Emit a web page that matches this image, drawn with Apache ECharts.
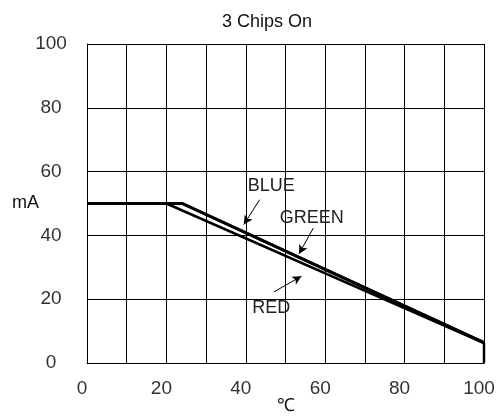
<!DOCTYPE html>
<html>
<head>
<meta charset="utf-8">
<script src="https://cdn.jsdelivr.net/npm/echarts@6/dist/echarts.min.js"></script>
<style>html,body{margin:0;padding:0;background:#fff;}#c{width:503px;height:416px;}</style>
</head>
<body>
<div id="c"></div>
<script>
// Data (temperature °C, current mA)
const blueCurrent  = [[0, 50], [24, 50], [100, 6.4]];
const greenCurrent = [[0, 50], [24, 50], [100, 6.4]];
const redCurrent   = [[0, 50], [20, 50], [100, 6.2], [100, 0]];
const xTickLabels = [0, 20, 40, 60, 80, 100];
const yTickLabels = [0, 20, 40, 60, 80, 100];
// annotation labels and arrows (data coordinates)
const seriesLabels = [
  { name: 'BLUE',  at: [46.4, 55.4], arrowFrom: [43.5, 51.2], arrowTo: [39.5, 43.4] },
  { name: 'GREEN', at: [56.6, 45.6], arrowFrom: [57.0, 42.3], arrowTo: [53.4, 34.2] },
  { name: 'RED',   at: [46.4, 17.1], arrowFrom: [47.1, 22.3], arrowTo: [54.0, 27.2] }
];

const FONT = 'Liberation Sans, Arial, sans-serif';
const chart = echarts.init(document.getElementById('c'), null, { renderer: 'canvas' });

const lineStyleBlack = { color: '#000', width: 1 };

function makeSeries(name, data, width) {
  const lab = seriesLabels.find(s => s.name === name);
  return {
    name: name,
    type: 'line',
    data: data,
    symbol: 'none',
    lineStyle: { color: '#000', width: width },
    itemStyle: { color: '#000' },
    z: 3,
    markLine: {
      silent: true,
      symbol: ['none', 'arrow'],
      symbolSize: [7, 9],
      lineStyle: { color: '#000', width: 1, type: 'solid' },
      label: { show: false },
      data: [[{ coord: lab.arrowFrom }, { coord: lab.arrowTo }]]
    },
    markPoint: {
      silent: true,
      symbol: 'rect',
      symbolSize: 1,
      itemStyle: { color: 'rgba(0,0,0,0)' },
      label: {
        show: true, position: 'inside', formatter: name,
        fontSize: 18, color: '#222', fontFamily: FONT
      },
      data: [{ coord: lab.at }]
    }
  };
}

chart.setOption({
  backgroundColor: '#fff',
  animation: false,
  title: {
    text: '3 Chips On',
    left: 222, top: 13, padding: 0,
    textStyle: { fontSize: 18, fontWeight: 'normal', color: '#111', fontFamily: FONT }
  },
  grid: { left: 87, right: 19, top: 44, bottom: 53, containLabel: false, outerBoundsMode: 'none' },
  xAxis: {
    type: 'value', min: 0, max: 100, interval: 10,
    name: '℃', nameLocation: 'middle', nameGap: 34, nameMoveOverlap: false,
    nameTextStyle: { fontSize: 18, color: '#111', fontFamily: FONT },
    axisLine: { show: true, lineStyle: lineStyleBlack },
    axisTick: { show: false },
    splitLine: { show: true, lineStyle: lineStyleBlack },
    axisLabel: {
      fontSize: 19, color: '#333', fontFamily: FONT, margin: 16,
      padding: [0, 10, 0, 0],
      formatter: v => xTickLabels.includes(v) ? String(v) : ''
    }
  },
  yAxis: {
    type: 'value', min: 0, max: 100, interval: 20,
    name: 'mA', nameLocation: 'middle', nameRotate: 0, nameGap: 48, nameMoveOverlap: false,
    nameTextStyle: { fontSize: 18, color: '#111', fontFamily: FONT, padding: [0, 0, 8, 0] },
    axisLine: { show: true, lineStyle: lineStyleBlack },
    axisTick: { show: false },
    splitLine: { show: true, lineStyle: lineStyleBlack },
    axisLabel: {
      fontSize: 19, color: '#333', fontFamily: FONT, margin: 36, align: 'center',
      formatter: v => yTickLabels.includes(v) ? String(v) : ''
    }
  },
  series: [
    makeSeries('BLUE', blueCurrent, 3),
    makeSeries('GREEN', greenCurrent, 3),
    makeSeries('RED', redCurrent, 2.5)
  ]
});
</script>
</body>
</html>
